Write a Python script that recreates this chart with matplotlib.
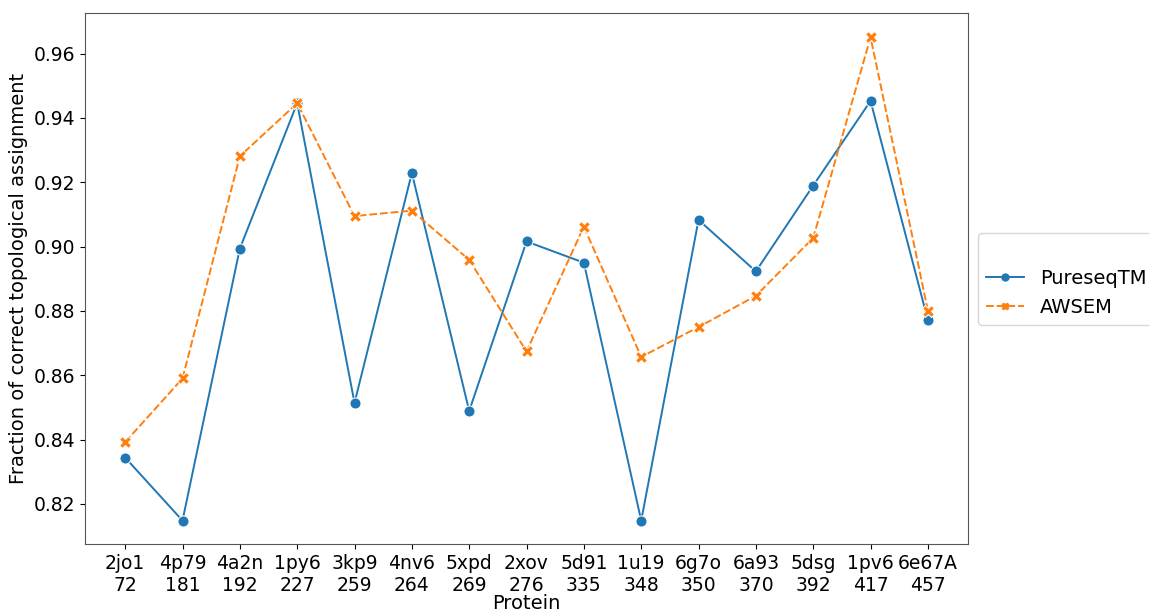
import numpy as np
import matplotlib.pyplot as plt
from matplotlib.lines import Line2D

# proteins and their lengths
proteins = ['2jo1', '4p79', '4a2n', '1py6', '3kp9', '4nv6', '5xpd', '2xov',
            '5d91', '1u19', '6g7o', '6a93', '5dsg', '1pv6', '6e67A']
lengths = [72, 181, 192, 227, 259, 264, 269, 276, 335, 348, 350, 370, 392, 417, 457]

pureseqtm = [0.8344, 0.8148, 0.8994, 0.9446, 0.8514, 0.9229, 0.8489, 0.9016,
             0.8950, 0.8148, 0.9083, 0.8923, 0.9190, 0.9453, 0.8771]
awsem = [0.8392, 0.8590, 0.9281, 0.9446, 0.9095, 0.9112, 0.8959, 0.8674,
         0.9062, 0.8657, 0.8750, 0.8847, 0.9027, 0.9651, 0.8801]

fig = plt.figure(figsize=(11.49, 6.11), dpi=100)
ax = fig.add_axes([0.074, 0.109, 0.7685, 0.870])

x = np.arange(len(proteins))
ax.plot(x, pureseqtm, color='#1f77b4', lw=1.4, marker='o', ms=8,
        mec='white', mew=0.75)
ax.plot(x, awsem, color='#ff7f0e', lw=1.4, marker='X', ms=8,
        mec='white', mew=0.75, dashes=(4, 1.5))

ax.set_xlim(-0.7, 14.7)
ax.set_ylim(0.8074, 0.9727)
ax.set_xticks(x)
ax.set_xticklabels([f'{p}\n{n}' for p, n in zip(proteins, lengths)], fontsize=13.5)
ax.set_yticks([0.82, 0.84, 0.86, 0.88, 0.90, 0.92, 0.94, 0.96])
ax.set_yticklabels(['%.2f' % v for v in ax.get_yticks()], fontsize=13.5)
ax.set_xlabel('Protein', fontsize=14, labelpad=-1)
ax.set_ylabel('Fraction of correct topological assignment', fontsize=14)
for s in ax.spines.values():
    s.set_color('#555555')

# blank first row like seaborn legend
blank = Line2D([], [], color='none')
h1 = Line2D([], [], color='#1f77b4', lw=1.4, marker='o', ms=5)
h2 = Line2D([], [], color='#ff7f0e', lw=1.4, marker='X', ms=5, dashes=(4, 1.5))
ax.legend([blank, h1, h2], ['', 'PureseqTM', 'AWSEM'], loc='center left',
          bbox_to_anchor=(1.0, 0.5), fontsize=14, handlelength=2.0)

fig.savefig('out.png', dpi=100)
